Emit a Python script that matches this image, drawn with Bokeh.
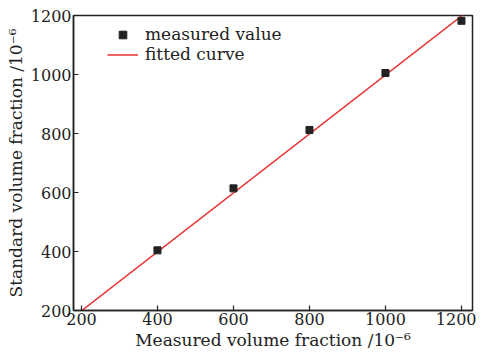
from bokeh.plotting import figure
from bokeh.models import Range1d, FixedTicker, Legend, LegendItem
from bokeh.embed import file_html
from bokeh.resources import INLINE

measured_x = [400, 600, 800, 1000, 1200]
measured_y = [404, 614, 812, 1005, 1182]
fit_x = [200, 1203]
fit_y = [199, 1201]
x_ticks = [200, 400, 600, 800, 1000, 1200]
y_ticks = [200, 400, 600, 800, 1000, 1200]

FONT = "DejaVu Serif"
FS = "17px"
TICK_FS = "16px"

p = figure(width=476, height=354, output_backend="svg", toolbar_location=None,
           x_range=Range1d(179, 1229), y_range=Range1d(200, 1200),
           min_border_left=73, min_border_right=4, min_border_top=15, min_border_bottom=44)

p.grid.visible = False
p.outline_line_color = "#222222"
p.outline_line_width = 1.5

r_line = p.line(fit_x, fit_y, line_color="#e83030", line_width=1.5)
r_pts = p.scatter(measured_x, measured_y, marker="square", size=7,
                  fill_color="#222222", line_color="#222222")

for ax in (p.xaxis[0], p.yaxis[0]):
    ax.major_tick_in = 5
    ax.major_tick_out = 0
    ax.minor_tick_line_color = None
    ax.axis_line_color = "#222222"
    ax.axis_line_width = 1.5
    ax.major_tick_line_color = "#222222"
    ax.major_tick_line_width = 1.2
    ax.major_label_text_font = FONT
    ax.major_label_text_font_size = TICK_FS
    ax.major_label_text_color = "#222222"
    ax.axis_label_text_font = FONT
    ax.axis_label_text_font_size = FS
    ax.axis_label_text_font_style = "normal"
    ax.axis_label_text_color = "#222222"

p.xaxis[0].ticker = FixedTicker(ticks=x_ticks)
p.yaxis[0].ticker = FixedTicker(ticks=y_ticks)
p.xaxis[0].axis_label = "Measured volume fraction /10⁻⁶"
p.yaxis[0].axis_label = "Standard volume fraction /10⁻⁶"
p.xaxis[0].major_label_standoff = 2
p.xaxis[0].axis_label_standoff = 2
p.yaxis[0].major_label_standoff = 2
p.yaxis[0].axis_label_standoff = 2

legend = Legend(items=[LegendItem(label="measured value", renderers=[r_pts]),
                       LegendItem(label="fitted curve", renderers=[r_line])],
                location=(34, 246))
legend.border_line_color = None
legend.background_fill_alpha = 0
legend.label_text_font = FONT
legend.label_text_font_size = FS
legend.label_text_color = "#222222"
legend.glyph_width = 31
legend.glyph_height = 19
legend.label_height = 19
legend.spacing = -3
legend.margin = 0
legend.padding = 0
legend.label_standoff = 7
p.add_layout(legend, "center")

open("out.html", "w").write(file_html(p, INLINE))
